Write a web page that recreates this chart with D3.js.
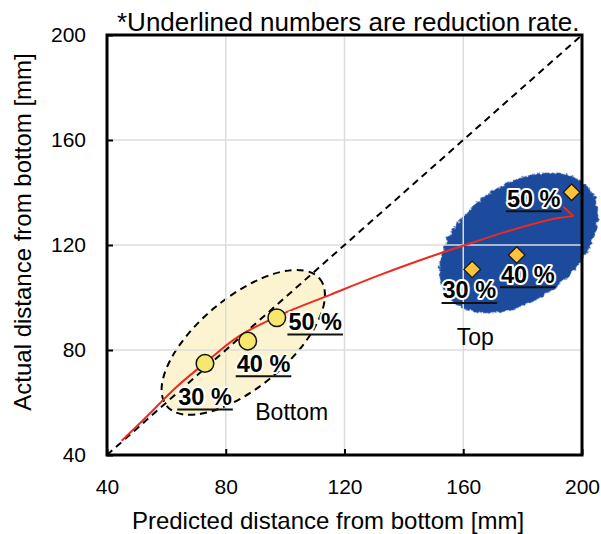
<!DOCTYPE html>
<html><head><meta charset="utf-8">
<script src="https://cdn.jsdelivr.net/npm/d3@7"></script>
<style>
html,body{margin:0;padding:0;background:#fff;}
text{font-family:"Liberation Sans",Arial,sans-serif;}
</style></head>
<body><svg id="c" width="601" height="534"></svg>
<script>
// ---------- data ----------
const xTicks = [40, 80, 120, 160, 200];
const yTicks = [40, 80, 120, 160, 200];
const gridValues = [80, 120, 160];
const rates = ["30 %", "40 %", "50 %"];
const bottomX = [73.0, 87.4, 97.2];
const bottomY = [74.9, 83.4, 92.3];
const topX = [163.0, 178.0, 196.5];
const topY = [110.7, 116.2, 140.1];
const curveX = [44.95, 52.2, 63.5, 73.2, 84.1, 98.3, 115.1, 132.0, 148.8, 162.3, 174.6, 191.5, 197.1];
const curveY = [45.4, 53.3, 66.0, 75.2, 85.0, 93.3, 101.0, 108.6, 115.5, 120.6, 125.1, 130.2, 131.0];
const hookX = [197.1, 193.7];
const hookY = [131.0, 134.6];
const groupNames = ["Bottom", "Top"];
const groupCenterX = [85.9, 178.7];
const groupCenterY = [82.9, 120.8];
const noteText = "*Underlined numbers are reduction rate.";
const xTitle = "Predicted distance from bottom [mm]";
const yTitle = "Actual distance from bottom [mm]";

// ---------- layout ----------
const svg = d3.select("#c");
const x = d3.scaleLinear().domain([40, 200]).range([107, 582]);
const y = d3.scaleLinear().domain([40, 200]).range([455, 35]);

const defs = svg.append("defs");
const f = defs.append("filter").attr("id", "rough").attr("x", "-10%").attr("y", "-10%").attr("width", "120%").attr("height", "120%");
f.append("feTurbulence").attr("type", "fractalNoise").attr("baseFrequency", 0.25).attr("numOctaves", 2).attr("seed", 3).attr("result", "n");
f.append("feDisplacementMap").attr("in", "SourceGraphic").attr("in2", "n").attr("scale", 5).attr("xChannelSelector", "R").attr("yChannelSelector", "G");

// ellipses
const ellStyle = [
  {rx: 99.5, ry: 45, rot: -39.8, fill: "#fcf4d0", stroke: "#000", dash: "7,5", filter: null},
  {rx: 89, ry: 57.7, rot: -36.2, fill: "#1f4b9e", stroke: "none", dash: null, filter: "url(#rough)"}
];
groupNames.forEach((g, i) => {
  const s = ellStyle[i];
  svg.append("ellipse")
    .attr("transform", `translate(${x(groupCenterX[i])},${y(groupCenterY[i])}) rotate(${s.rot})`)
    .attr("rx", s.rx).attr("ry", s.ry)
    .attr("fill", s.fill).attr("stroke", s.stroke).attr("stroke-width", 2)
    .attr("stroke-dasharray", s.dash).attr("filter", s.filter);
});

// grid
svg.append("g").selectAll("line.v").data(gridValues).join("line")
  .attr("x1", d => x(d)).attr("x2", d => x(d)).attr("y1", y(40)).attr("y2", y(200))
  .attr("stroke", "#dcdcdc").attr("stroke-width", 1.5);
svg.append("g").selectAll("line.h").data(gridValues).join("line")
  .attr("x1", x(40)).attr("x2", x(200)).attr("y1", d => y(d)).attr("y2", d => y(d))
  .attr("stroke", "#dcdcdc").attr("stroke-width", 1.5);

// axes
const ax = svg.append("g").attr("transform", `translate(0,${y(40)})`)
  .call(d3.axisBottom(x).tickValues(xTicks).tickSizeInner(-6).tickSizeOuter(0).tickPadding(24));
const ay = svg.append("g").attr("transform", `translate(${x(40)},0)`)
  .call(d3.axisLeft(y).tickValues(yTicks).tickSizeInner(-6).tickSizeOuter(0).tickPadding(21));
[ax, ay].forEach(a => {
  a.select(".domain").remove();
  a.selectAll(".tick line").attr("stroke", "#000").attr("stroke-width", 2);
  a.selectAll(".tick text").attr("font-size", 21).attr("fill", "#000")
    .style("font-family", '"Liberation Sans", Arial, sans-serif');
});

// diagonal
svg.append("line").attr("x1", x(40)).attr("y1", y(40)).attr("x2", x(200)).attr("y2", y(200))
  .attr("stroke", "#000").attr("stroke-width", 2).attr("stroke-dasharray", "7,5");

// red curve
const line = d3.line().x(d => x(d[0])).y(d => y(d[1]));
svg.append("path").datum(curveX.map((v, i) => [v, curveY[i]]))
  .attr("d", line.curve(d3.curveCatmullRom))
  .attr("fill", "none").attr("stroke", "#ee2a1e").attr("stroke-width", 2);
svg.append("path").datum(hookX.map((v, i) => [v, hookY[i]]))
  .attr("d", d3.line().x(d => x(d[0])).y(d => y(d[1])))
  .attr("fill", "none").attr("stroke", "#ee2a1e").attr("stroke-width", 2);

// border
svg.append("rect").attr("x", x(40)).attr("y", y(200)).attr("width", x(200) - x(40)).attr("height", y(40) - y(200))
  .attr("fill", "none").attr("stroke", "#000").attr("stroke-width", 3);

// markers
svg.append("g").selectAll("circle").data(bottomX).join("circle")
  .attr("cx", d => x(d)).attr("cy", (d, i) => y(bottomY[i])).attr("r", 8.8)
  .attr("fill", "#f6e86c").attr("stroke", "#111").attr("stroke-width", 1.5);
svg.append("g").selectAll("path").data(topX).join("path")
  .attr("d", d3.symbol(d3.symbolDiamond2, 175))
  .attr("transform", (d, i) => `translate(${x(d)},${y(topY[i])})`)
  .attr("fill", "#ffc23c").attr("stroke", "#1a1a1a").attr("stroke-width", 1.3);

// labels (offsets from markers in px)
const botOff = [[-26.7, 41.7], [-11, 30.7], [11.6, 12.3]];
const topOff = [[-29.6, 29], [-15.7, 27.7], [-64.7, 14.4]];
function rateLabel(px, py) {
  return (label, i) => {
    const g = svg.append("g");
    const t = g.append("text").attr("x", px[i]).attr("y", py[i])
      .attr("font-size", 23.5).attr("font-weight", "bold").attr("fill", "#000")
      .attr("stroke", "#fff").attr("stroke-width", 4).attr("stroke-linejoin", "round")
      .style("paint-order", "stroke").text(label);
    const w = t.node().getComputedTextLength();
    g.insert("line", "text").attr("x1", px[i] - 1).attr("x2", px[i] + w + 1)
      .attr("y1", py[i] + 4.5).attr("y2", py[i] + 4.5).attr("stroke", "#111").attr("stroke-width", 2);
  };
}
rates.forEach(rateLabel(bottomX.map((d, i) => x(d) + botOff[i][0]), bottomY.map((d, i) => y(d) + botOff[i][1])));
rates.forEach(rateLabel(topX.map((d, i) => x(d) + topOff[i][0]), topY.map((d, i) => y(d) + topOff[i][1])));

// group names
const nameOff = [[12, 78], [-62, 102]];
groupNames.forEach((g, i) => {
  svg.append("text").attr("x", x(groupCenterX[i]) + nameOff[i][0]).attr("y", y(groupCenterY[i]) + nameOff[i][1])
    .attr("font-size", 23).attr("fill", "#000").text(g);
});

// note & titles
svg.append("text").attr("x", 117).attr("y", 31).attr("font-size", 26).attr("fill", "#000").text(noteText);
svg.append("text").attr("x", 328).attr("y", 529).attr("text-anchor", "middle").attr("font-size", 24).attr("fill", "#000").text(xTitle);
svg.append("text").attr("transform", "translate(31,232) rotate(-90)").attr("text-anchor", "middle")
  .attr("font-size", 24).attr("fill", "#000").text(yTitle);
</script></body></html>
